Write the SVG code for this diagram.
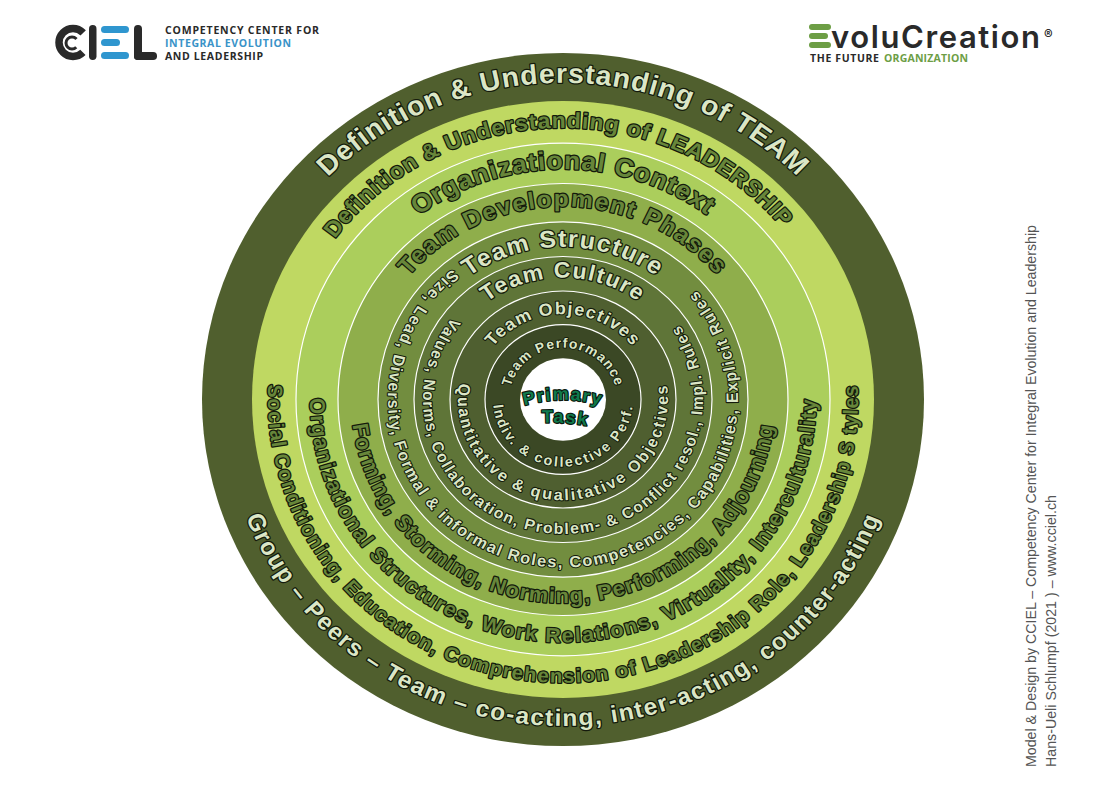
<svg xmlns="http://www.w3.org/2000/svg" width="1110" height="785" viewBox="0 0 1110 785">
<style>
.r{stroke:#fff;stroke-width:1.2}
.t{font-family:"Liberation Sans",Arial,sans-serif;font-weight:700;text-anchor:middle;stroke:#141a0c;paint-order:stroke;stroke-linejoin:round}
.l{fill:#dbe6c6}
.d{fill:#67863a}
.p{fill:#0f7a4c;stroke:#0c1a10;stroke-width:2.4;font-size:18px;letter-spacing:1.6px}
.lg{font-family:"Open Sans","Liberation Sans",sans-serif;font-weight:700;font-size:10.5px}
.s{font-family:"Liberation Sans",Arial,sans-serif;font-size:14.2px;fill:#555}
</style>
<defs>
<path id="a1" d="M0,330A330,330 0 1 1 0,-330A330,330 0 1 1 0,330"/>
<path id="a2" d="M0,283A283,283 0 1 1 0,-283A283,283 0 1 1 0,283"/>
<path id="a3" d="M0,240A240,240 0 1 1 0,-240A240,240 0 1 1 0,240"/>
<path id="a4" d="M0,201A201,201 0 1 1 0,-201A201,201 0 1 1 0,201"/>
<path id="a5" d="M0,159A159,159 0 1 1 0,-159A159,159 0 1 1 0,159"/>
<path id="a6" d="M0,127A127,127 0 1 1 0,-127A127,127 0 1 1 0,127"/>
<path id="a7" d="M0,89A89,89 0 1 1 0,-89A89,89 0 1 1 0,89"/>
<path id="a8" d="M0,54A54,54 0 1 1 0,-54A54,54 0 1 1 0,54"/>
<path id="b1" d="M0,-340A340,340 0 1 0 0,340A340,340 0 1 0 0,-340"/>
<path id="b2" d="M0,-295A295,295 0 1 0 0,295A295,295 0 1 0 0,-295"/>
<path id="b3" d="M0,-253A253,253 0 1 0 0,253A253,253 0 1 0 0,-253"/>
<path id="b4" d="M0,-212A212,212 0 1 0 0,212A212,212 0 1 0 0,-212"/>
<path id="b5" d="M0,-175A175,175 0 1 0 0,175A175,175 0 1 0 0,-175"/>
<path id="b6" d="M0,-140A140,140 0 1 0 0,140A140,140 0 1 0 0,-140"/>
<path id="b7" d="M0,-105A105,105 0 1 0 0,105A105,105 0 1 0 0,-105"/>
<path id="b8" d="M0,-70A70,70 0 1 0 0,70A70,70 0 1 0 0,-70"/>
<path id="c1" d="M522,406Q563,394 604,406"/>
<path id="c2" d="M538,423Q565,421 592,427"/>
</defs>
<rect width="1110" height="785" fill="#fff"/>
<g id="rings" transform="translate(563,399.5) scale(1,0.96)">
<circle id="ring1" r="361" fill="#505f2e"/>
<circle id="ring2" r="311" fill="#bfd862"/>
<circle id="ring3" class="r" r="267" fill="#abce5c"/>
<circle id="ring4" class="r" r="225" fill="#8fae4b"/>
<circle id="ring5" class="r" r="185" fill="#728d3f"/>
<circle id="ring6" class="r" r="149" fill="#5f7538"/>
<circle id="ring7" class="r" r="113" fill="#4f5f30"/>
<circle id="ring8" class="r" r="78" fill="#3b4825"/>
<circle id="ring9" r="43" fill="#fff"/>
</g>
<g id="ringtext" transform="translate(563,399.5) scale(1,0.96)">
<text class="t l" font-size="28.5" stroke-width="2.6" letter-spacing="0.9"><textPath href="#a1" startOffset="50%">Definition &amp; Understanding of TEAM</textPath></text>
<text class="t d" font-size="23" stroke-width="2.6" letter-spacing="0.9"><textPath href="#a2" startOffset="49.6%">Definition &amp; Understanding of LEADERSHIP</textPath></text>
<text class="t d" font-size="26.5" stroke-width="2.6" letter-spacing="0.9"><textPath href="#a3" startOffset="50%">Organizational Context</textPath></text>
<text class="t d" font-size="24.5" stroke-width="2.6" letter-spacing="1.6"><textPath href="#a4" startOffset="50%">Team Development Phases</textPath></text>
<text class="t l" font-size="25" stroke-width="2.6" letter-spacing="1.4"><textPath href="#a5" startOffset="50%">Team Structure</textPath></text>
<text class="t l" font-size="23" stroke-width="2.6" letter-spacing="1.5"><textPath href="#a6" startOffset="50%">Team Culture</textPath></text>
<text class="t l" font-size="18" stroke-width="2.2" letter-spacing="1.3"><textPath href="#a7" startOffset="50%">Team Objectives</textPath></text>
<text class="t l" font-size="14" stroke-width="2" letter-spacing="1.1"><textPath href="#a8" startOffset="50%">Team Performance</textPath></text>
<text class="t l" font-size="24.5" stroke-width="2.6" letter-spacing="1.5"><textPath href="#b1" startOffset="50%">Group – Peers – Team – co-acting, inter-acting, counter-acting</textPath></text>
<text class="t d" font-size="20.5" stroke-width="2.6" letter-spacing="1.25"><textPath href="#b2" startOffset="50%">Social Conditioning, Education, Comprehension of Leadership Role, Leadership S tyles</textPath></text>
<text class="t d" font-size="21.5" stroke-width="2.6" letter-spacing="1.45"><textPath href="#b3" startOffset="50%">Organizational Structures, Work Relations, Virtuality, Interculturality</textPath></text>
<text class="t d" font-size="22" stroke-width="2.6" letter-spacing="1.1"><textPath href="#b4" startOffset="50%">Forming, Storming, Norming, Performing, Adjourning</textPath></text>
<text class="t l" font-size="16.5" stroke-width="2.2" letter-spacing="1.45"><textPath href="#b5" startOffset="48.6%">Size, Lead, Diversity, Formal &amp; informal Roles, Competencies, Capabilities, Explicit Rules</textPath></text>
<text class="t l" font-size="16" stroke-width="2.2" letter-spacing="1.35"><textPath href="#b6" startOffset="49.5%">Values, Norms, Collaboration, Problem- &amp; Conflict resol., Impl. Rules</textPath></text>
<text class="t l" font-size="16.5" stroke-width="2.2" letter-spacing="2.1"><textPath href="#b7" startOffset="50%">Quantitative &amp; qualitative Objectives</textPath></text>
<text class="t l" font-size="14.5" stroke-width="2" letter-spacing="2"><textPath href="#b8" startOffset="50%">Indiv. &amp; collective Perf.</textPath></text>
</g>
<g id="primary">
<text class="t p"><textPath href="#c1" startOffset="50%">Primary</textPath></text>
<text class="t p"><textPath href="#c2" startOffset="50%">Task</textPath></text>
</g>
<g id="ciel-logo">
<circle cx="73" cy="42.5" r="14" fill="none" stroke="#2a2a2a" stroke-width="7.5" stroke-dasharray="66 22" transform="rotate(45 73 42.5)"/>
<circle cx="72" cy="43" r="6" fill="none" stroke="#2a2a2a" stroke-width="3" stroke-dasharray="28 10" transform="rotate(45 72 43)"/>
<rect x="89" y="25" width="7.5" height="35" rx="3.7" fill="#2a2a2a"/>
<rect x="101" y="26" width="28" height="7" rx="3.5" fill="#2f96cf"/>
<rect x="101" y="39" width="19" height="7" rx="3.5" fill="#2f96cf"/>
<rect x="101" y="52" width="28" height="7" rx="3.5" fill="#2f96cf"/>
<rect x="134" y="25" width="8" height="35" rx="3.8" fill="#2a2a2a"/>
<rect x="134" y="52" width="23" height="8" rx="3.8" fill="#2a2a2a"/>
<text class="lg" x="165" y="33.5" fill="#2a2a2a" textLength="154">COMPETENCY CENTER FOR</text>
<text class="lg" x="165" y="46.5" fill="#3a93c8" textLength="126">INTEGRAL EVOLUTION</text>
<text class="lg" x="165" y="59.5" fill="#2a2a2a" textLength="98">AND LEADERSHIP</text>
</g>
<g id="evolucreation-logo">
<rect x="809" y="24" width="22" height="6" rx="3" fill="#6d9e45"/>
<rect x="809" y="33" width="19" height="6" rx="3" fill="#6d9e45"/>
<rect x="809" y="42" width="22" height="6" rx="3" fill="#6d9e45"/>
<text x="831" y="48" font-family="Inter,'Open Sans',sans-serif" font-weight="600" font-size="31" fill="#2a2a2a" textLength="209">voluCreation</text>
<text x="1044" y="39" font-family="Inter,'Open Sans',sans-serif" font-weight="700" font-size="13" fill="#2a2a2a">®</text>
<text class="lg" x="810" y="61.5" fill="#2a2a2a" textLength="69">THE FUTURE</text>
<text class="lg" x="884" y="61.5" fill="#6d9e45" textLength="84">ORGANIZATION</text>
</g>
<g id="credit">
<text class="s" transform="translate(1036,767) rotate(-90)" textLength="542">Model &amp; Design by CCIEL – Competency Center for Integral Evolution and Leadership</text>
<text class="s" transform="translate(1056,767) rotate(-90)" textLength="272">Hans-Ueli Schlumpf (2021 ) – www.cciel.ch</text>
</g>
</svg>
